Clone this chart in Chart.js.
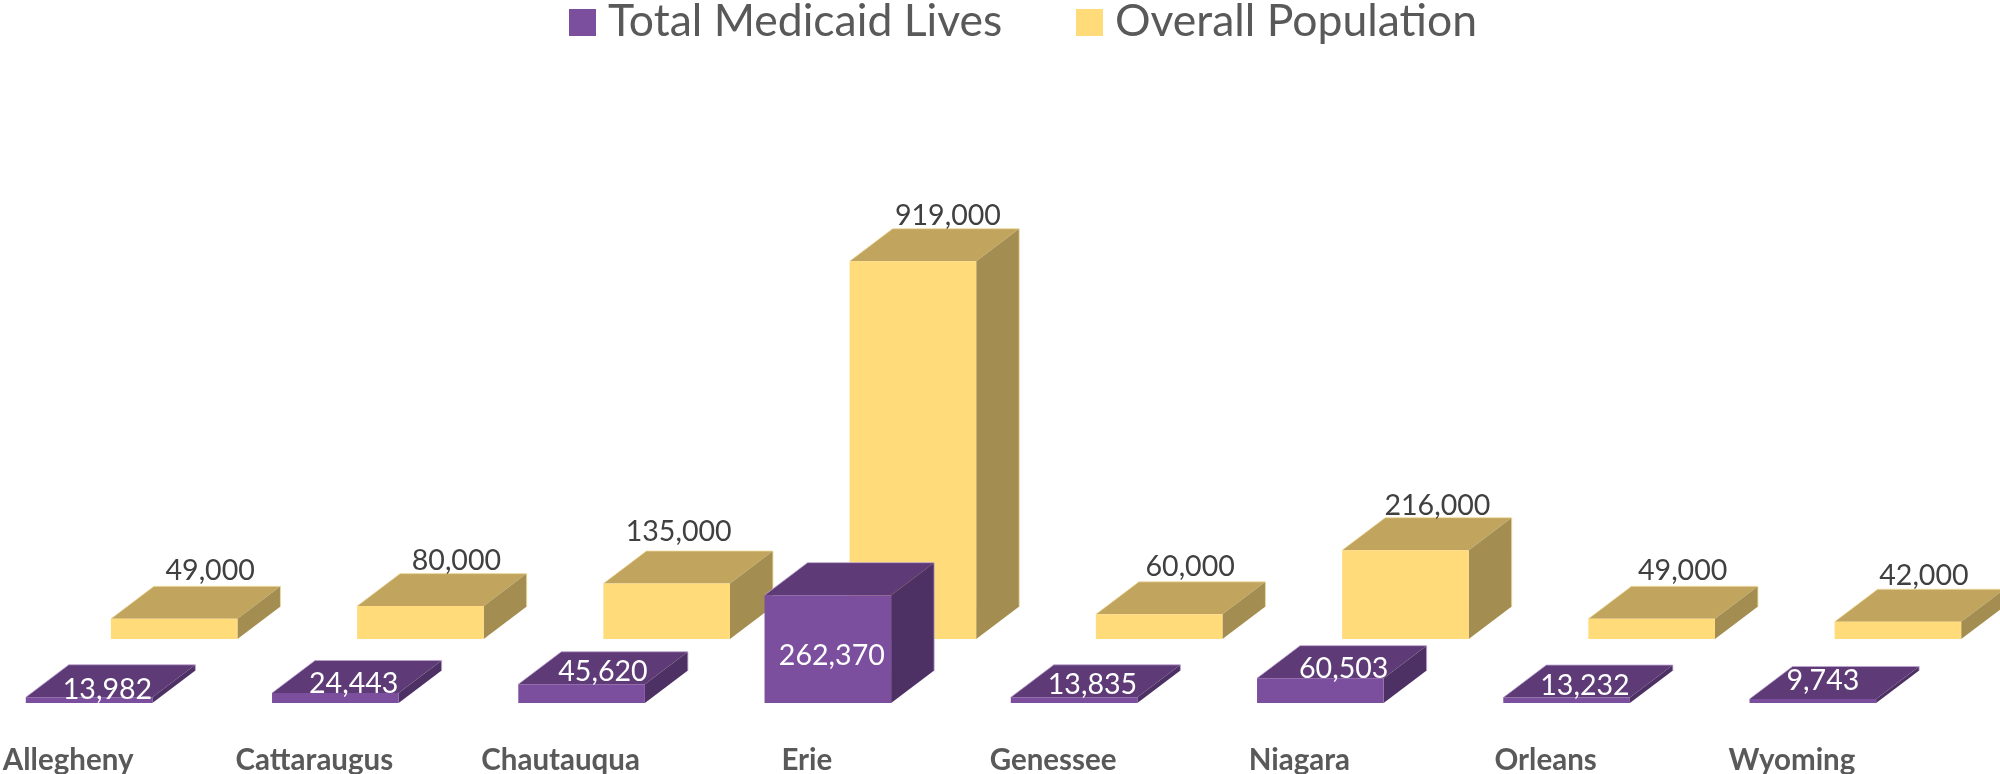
<!DOCTYPE html>
<html>
<head>
<meta charset="utf-8">
<title>Medicaid lives and population by county</title>
<style>
  body { margin: 0; background: #fff; }
  canvas { display: block; }
</style>
<script src="https://cdn.jsdelivr.net/npm/chart.js@4"></script>
</head>
<body>
<canvas id="myChart" width="2000" height="774"></canvas>
<script>
// Values
const counties = ['Allegheny', 'Cattaraugus', 'Chautauqua', 'Erie', 'Genessee', 'Niagara', 'Orleans', 'Wyoming'];
const medicaidLives = [13982, 24443, 45620, 262370, 13835, 60503, 13232, 9743];
const overallPopulation = [49000, 80000, 135000, 919000, 60000, 216000, 49000, 42000];

// Depth of the fake 3D boxes, in pixels
const depthX = 43;
const depthY = 32.5;

// The labels were moved by hand in the original, these are the small [x, y] shifts per county
const frontLabelShift = [[0, 5], [0, 3], [3, 0], [0, 1], [0, -1], [5, 3], [0, 0], [0, -6]];
const backLabelShift = [[1, -1], [1, 2], [-23, -5], [0, 2], [-4, -1], [-3, 3], [-4, -1], [-9, 1]];

const faceColors = [
  { top: '#5e3b76', side: '#4e3164', edge: 'rgba(190,165,210,0.8)' },
  { top: '#c1a55e', side: '#a38d50', edge: 'rgba(240,220,160,0.8)' }
];

// Draws top and side of each box behind the front face that the bar element draws
const boxFaces = {
  id: 'boxFaces',
  beforeDatasetDraw(chart, args) {
    const ctx = chart.ctx;
    const colors = faceColors[args.index];
    args.meta.data.forEach(bar => {
      const left = bar.x - bar.width / 2;
      const right = bar.x + bar.width / 2;
      ctx.fillStyle = colors.top;
      ctx.beginPath();
      ctx.moveTo(left, bar.y);
      ctx.lineTo(left + depthX, bar.y - depthY);
      ctx.lineTo(right + depthX, bar.y - depthY);
      ctx.lineTo(right, bar.y);
      ctx.closePath();
      ctx.fill();
      ctx.fillStyle = colors.side;
      ctx.beginPath();
      ctx.moveTo(right, bar.y);
      ctx.lineTo(right + depthX, bar.y - depthY);
      ctx.lineTo(right + depthX, bar.base - depthY);
      ctx.lineTo(right, bar.base);
      ctx.closePath();
      ctx.fill();
      // thin light line along the back edges
      ctx.strokeStyle = colors.edge;
      ctx.lineWidth = 1;
      ctx.beginPath();
      ctx.moveTo(left, bar.y);
      ctx.lineTo(left + depthX, bar.y - depthY);
      ctx.lineTo(right + depthX, bar.y - depthY);
      ctx.lineTo(right + depthX, bar.base - depthY);
      ctx.stroke();
    });
  }
};

// Value labels, same fonts as the original
const valueLabels = {
  id: 'valueLabels',
  afterDatasetsDraw(chart) {
    const ctx = chart.ctx;
    ctx.save();
    ctx.font = '28.6px Lato';
    ctx.textBaseline = 'middle';

    chart.getDatasetMeta(1).data.forEach((bar, i) => {
      const shift = backLabelShift[i];
      ctx.fillStyle = '#404040';
      ctx.textAlign = 'center';
      ctx.fillText(overallPopulation[i].toLocaleString('en-US'), bar.x + 35 + shift[0], bar.y - 47 + shift[1]);
    });

    chart.getDatasetMeta(0).data.forEach((bar, i) => {
      const text = medicaidLives[i].toLocaleString('en-US');
      const shift = frontLabelShift[i];
      ctx.fillStyle = '#ffffff';
      if (bar.base - bar.y > 60) {
        ctx.textAlign = 'center';
        ctx.fillText(text, bar.x + 4 + shift[0], (bar.y + bar.base) / 2 + 6 + shift[1]);
      } else {
        ctx.textAlign = 'left';
        ctx.fillText(text, bar.x - bar.width / 2 + 37 + shift[0], bar.y - 12 + shift[1]);
      }
    });
    ctx.restore();
  }
};

// Legend on top, box and text spacing of the original is tighter than the built-in one
const topLegend = {
  id: 'topLegend',
  afterDraw(chart) {
    const ctx = chart.ctx;
    const boxX = [569, 1076];
    ctx.save();
    ctx.font = '44.5px Lato';
    ctx.textAlign = 'left';
    ctx.textBaseline = 'alphabetic';
    chart.data.datasets.forEach((ds, i) => {
      ctx.fillStyle = ds.backgroundColor;
      ctx.fillRect(boxX[i], 9, 27, 27);
      ctx.fillStyle = '#595959';
      ctx.fillText(ds.label, boxX[i] + 39, 36);
    });
    ctx.restore();
  }
};

const ctx = document.getElementById('myChart').getContext('2d');
const myChart = new Chart(ctx, {
  type: 'bar',
  data: {
    labels: counties,
    datasets: [
      {
        label: 'Total Medicaid Lives',
        data: medicaidLives,
        backgroundColor: '#7b4e9e',
        yAxisID: 'y'
      },
      {
        label: 'Overall Population',
        data: overallPopulation,
        backgroundColor: '#ffdb7a',
        yAxisID: 'yBack'
      }
    ]
  },
  plugins: [boxFaces, valueLabels, topLegend],
  options: {
    responsive: false,
    animation: false,
    categoryPercentage: 0.691,
    barPercentage: 1.488,
    layout: { padding: { left: 8.5, right: 21.5, top: 60, bottom: 0 } },
    plugins: {
      legend: { display: false },
      tooltip: { enabled: false }
    },
    scales: {
      x: {
        grid: { display: false, drawTicks: false },
        border: { display: false },
        afterFit: scale => { scale.height = 71; },
        ticks: {
          color: '#595959',
          font: { family: 'Lato', size: 29.5, weight: 'bold' },
          padding: 40,
          labelOffset: -63.5,
          maxRotation: 0,
          autoSkip: false
        }
      },
      // same pixels per unit, the back row just sits higher
      y: { display: false, min: 0, max: 1564000 },
      yBack: { display: false, min: -155700, max: 1408300 }
    }
  }
});
</script>
</body>
</html>
